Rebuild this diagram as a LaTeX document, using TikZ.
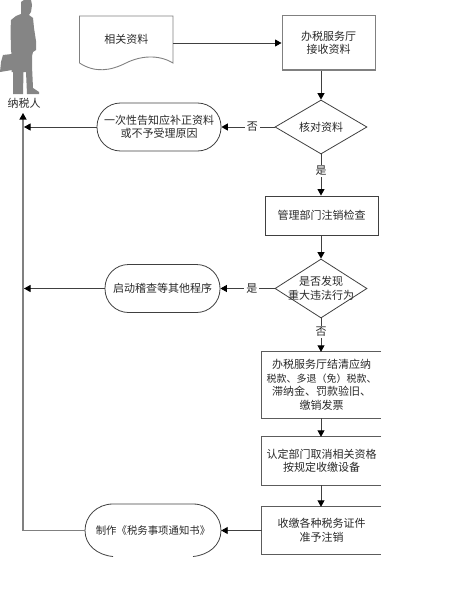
\documentclass[tikz,border=0pt]{standalone}
\usepackage{fontspec}
\setmainfont{Noto Sans CJK SC}
\usetikzlibrary{arrows.meta,shapes.geometric}
\definecolor{ink}{gray}{0.16}
\definecolor{lineD}{gray}{0.25}
\definecolor{lineG}{gray}{0.5}
\definecolor{figG}{gray}{0.52}
\tikzset{
  x=1pt,y=-1pt,
  every node/.style={font=\fontsize{11}{13.5}\selectfont,text=ink,align=center,inner sep=0pt},
  procbox/.style={draw=lineG,line width=1pt,rectangle},
  mgmtbox/.style={draw=lineD,line width=0.9pt,rectangle},
  openbox/.style={rectangle},
  sideline/.style={draw=lineD!85!white,line width=0.9pt},
  decis/.style={draw=lineD,line width=0.8pt,diamond,minimum width=92pt,minimum height=54pt},
  termin/.style={draw=lineD,line width=0.8pt,rectangle,rounded corners=23.5pt,minimum height=48pt},
  conn/.style={draw=lineD,line width=0.9pt,-{Triangle[length=6.5pt,width=7pt,color=black]}},
  trunk/.style={draw=lineG,line width=1.2pt,-{Triangle[length=6.5pt,width=7pt,color=black]}},
  lab/.style={fill=white,inner xsep=2pt,inner ysep=1pt}
}
\begin{document}
\begin{tikzpicture}
\useasboundingbox (0,0) rectangle (449,594);
% taxpayer silhouette
\fill[figG] (21,2) -- (24,0) -- (31,0) -- (32,5) -- (31,12) -- (29,15) -- (33,18) -- (34,28) -- (36,41) -- (36,50) -- (33,52) -- (32,56) -- (32,66) -- (33,88) -- (39,92) -- (39,94) -- (27,94) -- (26,72) -- (23.5,72) -- (23,94) -- (13,94) -- (13,72) -- (11.5,72) -- (11.5,54) -- (11,50) -- (10.5,30) -- (11,20) -- (16,16) -- (21,14) -- cycle;
\fill[figG] (3,55) -- (12,54) -- (12,70) -- (0,72) -- (1,62) -- cycle;
\node (person) at (24,103.5) {纳税人};
% document shape
\draw[lineG,line width=0.9pt] (79.5,63) -- (79.5,16) -- (173,16) -- (173,63)
  .. controls (158,54) and (140,56) .. (126,63)
  .. controls (110,71) and (95,73) .. (79.5,63);
\node[minimum width=93.5pt,minimum height=47pt] (doc) at (126.25,39.5) {相关资料};
\coordinate (docout) at (173,43);
% flow nodes
\node[procbox,minimum width=93pt,minimum height=54pt] (recv) at (328.5,43) {办税服务厅\\接收资料};
\node[decis,label={center:核对资料}] (check) at (321,127) {};
\node[termin,minimum width=124pt] (inform) at (159,127) {一次性告知应补正资料\\或不予受理原因};
\node[mgmtbox,minimum width=113pt,minimum height=39pt] (mgmt) at (321.5,215.5) {管理部门注销检查};
\node[decis,minimum height=59pt,label={[align=center]center:是否发现\\重大违法行为}] (viol) at (321,288.5) {};
\node[termin,minimum width=115pt] (audit) at (162.5,288.5) {启动稽查等其他程序};
\node[openbox,minimum width=119pt,minimum height=66pt] (settle) at (321.5,385) {办税服务厅结清应纳\\{\fontsize{10}{13.5}\selectfont 税款、多退（免）税款、}\\滞纳金、罚款验旧、\\缴销发票};
\node[openbox,minimum width=119pt,minimum height=48pt] (cancel) at (321.5,461) {认定部门取消相关资格\\按规定收缴设备};
\node[openbox,minimum width=119pt,minimum height=47pt] (collect) at (321.5,530.5) {收缴各种税务证件\\准予注销};
\node[minimum width=136pt,minimum height=53pt,font=\fontsize{10.4}{13.5}\selectfont] (notice) at (153,530.5) {制作《税务事项通知书》};
% boxes open on the right
\foreach \b in {settle,cancel,collect}
  \draw[sideline] (\b.north east) -- (\b.north west) -- (\b.south west) -- (\b.south east);
% stadium clipped at its lower edge
\draw[lineD,line width=0.8pt] (113,556.5) .. controls (97,555) and (85,545) .. (85,530.5)
  .. controls (85,516) and (97,504) .. (113,504) -- (193,504)
  .. controls (209,504) and (221,516) .. (221,530.5)
  .. controls (221,545) and (209,555) .. (193,556.5);
% trunk line
\coordinate (taxin) at (23,113);
\draw[trunk] (notice.west) -- (notice.west -| taxin) -- (taxin);
% connectors
\draw[conn] (docout) -- (docout -| recv.west);
\draw[conn] (recv.south -| check.north) -- (check.north);
\draw[conn] (check.west) -- node[lab,pos=0.42]{否} (inform.east);
\draw[conn] (check.south) -- node[lab,pos=0.4]{是} (check.south |- mgmt.north);
\draw[conn] (mgmt.south -| viol.north) -- (viol.north);
\draw[conn] (viol.west) -- node[lab,pos=0.42]{是} (audit.east);
\draw[conn] (viol.south) -- node[lab,pos=0.4]{否} (viol.south |- settle.north);
\draw[conn] (inform.west) -- ([xshift=1pt]inform.west -| taxin);
\draw[conn] (audit.west) -- ([xshift=1pt]audit.west -| taxin);
\draw[conn] (settle.south -| viol.south) -- (cancel.north -| viol.south);
\draw[conn] (cancel.south -| viol.south) -- (collect.north -| viol.south);
\draw[conn] (collect.west) -- (notice.east);
\end{tikzpicture}
\end{document}
